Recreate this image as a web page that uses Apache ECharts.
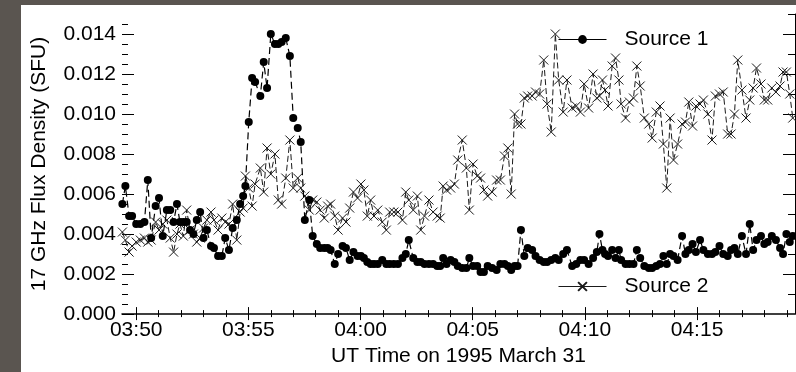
<!DOCTYPE html>
<html>
<head>
<meta charset="utf-8">
<script src="https://cdn.jsdelivr.net/npm/echarts@6/dist/echarts.min.js"></script>
<style>
  html, body { margin: 0; padding: 0; background: #5a5550; width: 796px; height: 372px; overflow: hidden; }
  #c { position: absolute; left: 21px; top: 5px; width: 775px; height: 367px; background: #ffffff; }
</style>
</head>
<body>
<div id="c"></div>
<script>
// time of each sample, in seconds after 03:49:00 UT (1995 March 31)
var tSec = [23,31,41,49,60,71,82,91,100,112,
  121,131,142,151,160,169,177,186,195,204,
  213,222,231,240,249,260,268,279,289,298,
  308,318,329,338,346,352,361,370,378,392,
  401,410,420,431,440,449,460,471,480,492,
  500,511,523,532,543,552,563,572,580,591,
  600,612,621,631,641,652,661,669,678,687,
  696,706,718,729,738,749,760,772,781,789,
  801,812,821,831,843,854,865,873,881,890,901,
  911,920,932,943,951,961,972,981,990,1000,
  1012,1024,1034,1045,1054,1063,1072,1080,1089,1098,
  1107,1119,1128,1139,1150,1159,1170,1181,1190,1202,
  1212,1226,1237,1248,1258,1270,1282,1292,1299,1307,
  1314,1322,1333,1342,1351,1357,1369,1379,1390,1399,
  1408,1419,1431,1440,1451,1461,1470,1479,1488,1497,
  1508,1520,1529,1538,1548,1557,1568,1577,1589,1600,
  1609,1620,1630,1642,1651,1660,1669,1680,1691,1701,
  1710,1719,1731,1740,1749,1760,1771,1782,1790,1799,
  1808,1816];

// Source 1 (filled circles), SFU
var source1 = [.0055,.0064,.0049,.0049,.0045,.0045,.0046,.0067,.0038,.0054,
  .0058,.0039,.0052,.0052,.0046,.0055,.0046,.0046,.0046,.0042,
  .0040,.0047,.0051,.0038,.0042,.0034,.0033,.0029,.0029,.0038,
  .0032,.0043,.0047,.0055,.0059,.0064,.0096,.0118,.0116,.0109,
  .0126,.0113,.0140,.0135,.0135,.0136,.0138,.0129,.0098,.0093,
  .0086,.0047,.0057,.0039,.0035,.0033,.0033,.0033,.0032,.0025,
  .0030,.0034,.0033,.0027,.0031,.0029,.0029,.0028,.0026,.0025,
  .0025,.0025,.0027,.0025,.0025,.0025,.0025,.0028,.0030,.0037,
  .0028,.0026,.0026,.0025,.0025,.0025,.0024,.0024,.0028,.0025,.0027,
  .0026,.0024,.0023,.0023,.0028,.0024,.0024,.0021,.0021,.0024,
  .0023,.0022,.0025,.0025,.0024,.0022,.0024,.0024,.0042,.0029,
  .0033,.0032,.0029,.0027,.0026,.0026,.0027,.0028,.0027,.0030,
  .0032,.0024,.0025,.0027,.0027,.0025,.0028,.0031,.0040,.0032,
  .0030,.0029,.0032,.0028,.0032,.0027,.0025,.0025,.0025,.0032,
  .0028,.0024,.0023,.0023,.0024,.0025,.0029,.0025,.0030,.0029,
  .0027,.0039,.0030,.0032,.0035,.0031,.0037,.0032,.0030,.0030,
  .0031,.0034,.0030,.0029,.0032,.0033,.0030,.0039,.0030,.0045,
  .0032,.0037,.0039,.0035,.0036,.0039,.0037,.0033,.0030,.0040,
  .0036,.0039];

// Source 2 (crosses), SFU
var source2 = [.0041,.0037,.0031,.0034,.0036,.0037,.0038,.0036,.0037,.0046,
  .0042,.0045,.0047,.0038,.0031,.0040,.0045,.0039,.0052,.0042,
  .0040,.0036,.0038,.0043,.0047,.0051,.0047,.0042,.0048,.0046,
  .0045,.0055,.0037,.0051,.0053,.0069,.0063,.0054,.0065,.0073,
  .0061,.0083,.0070,.0080,.0057,.0055,.0068,.0087,.0063,.0068,
  .0063,.0059,.0052,.0057,.0056,.0052,.0048,.0054,.0055,.0049,
  .0042,.0048,.0046,.0053,.0061,.0058,.0065,.0062,.0049,.0057,
  .0049,.0052,.0046,.0042,.0051,.0051,.0051,.0047,.0061,.0057,
  .0052,.0059,.0042,.0049,.0057,.0051,.0049,.0048,.0064,.0062,.0063,
  .0065,.0077,.0087,.0073,.0052,.0075,.0069,.0068,.0062,.0059,
  .0061,.0067,.0067,.0079,.0083,.0060,.0100,.0095,.0095,.0108,
  .0109,.0109,.0111,.0110,.0127,.0105,.0091,.0140,.0117,.0101,
  .0117,.0103,.0104,.0101,.0115,.0103,.0120,.0108,.0109,.0117,
  .0112,.0104,.0124,.0128,.0117,.0105,.0098,.0106,.0108,.0124,
  .0114,.0098,.0095,.0088,.0101,.0104,.0085,.0063,.0098,.0077,
  .0085,.0095,.0096,.0106,.0094,.0104,.0105,.0107,.0100,.0087,
  .0109,.0110,.0111,.0090,.0090,.0100,.0127,.0112,.0098,.0107,
  .0113,.0123,.0115,.0107,.0107,.0113,.0111,.0114,.0121,.0121,
  .0110,.0098];

var seriesNames = ['Source 1', 'Source 2'];

// axis ticks (x in seconds after 03:49:00)
var xMajorTicks = [60, 360, 660, 960, 1260, 1560];
var xMinorTicks = [60,120,180,240,300,360,420,480,540,600,660,720,780,840,900,960,1020,1080,1140,1200,1260,1320,1380,1440,1500,1560,1620,1680,1740,1800];
var yMajorTicks = [0, 0.002, 0.004, 0.006, 0.008, 0.010, 0.012, 0.014];
var yMinorTicks = [0.0005,0.001,0.0015,0.002,0.0025,0.003,0.0035,0.004,0.0045,0.005,0.0055,0.006,0.0065,0.007,0.0075,0.008,0.0085,0.009,0.0095,0.010,0.0105,0.011,0.0115,0.012,0.0125,0.013,0.0135,0.014,0.0145];
var yRightMajor = [0.002, 0.004, 0.006, 0.008, 0.010, 0.012, 0.014];
var yRightMinor = [0.001,0.002,0.003,0.004,0.005,0.006,0.007,0.008,0.009,0.010,0.011,0.012,0.013,0.014,0.015];

var xMin = 22, xMax = 1822, yMin = 0, yMax = 0.015;

function timeLabel(s) {
  var total = 3 * 3600 + 49 * 60 + Math.round(s);
  var h = Math.floor(total / 3600);
  var m = Math.floor((total % 3600) / 60);
  return (h < 10 ? '0' : '') + h + ':' + (m < 10 ? '0' : '') + m;
}

var FONT = '"Liberation Sans", Arial, Helvetica, sans-serif';
var black = '#000';

function xAx(pos, ticks, len, opts) {
  var a = {
    type: 'value', position: pos, min: xMin, max: xMax,
    axisLine: { show: false },
    axisTick: { show: true, inside: true, length: len, customValues: ticks, lineStyle: { color: black, width: 1 } },
    axisLabel: { show: false },
    splitLine: { show: false }
  };
  return Object.assign(a, opts || {});
}
function yAx(pos, ticks, len, opts) {
  var a = {
    type: 'value', position: pos, min: yMin, max: yMax,
    axisLine: { show: false },
    axisTick: { show: true, inside: true, length: len, customValues: ticks, lineStyle: { color: black, width: 1 } },
    axisLabel: { show: false },
    splitLine: { show: false }
  };
  return Object.assign(a, opts || {});
}

var chart = echarts.init(document.getElementById('c'), null, { renderer: 'canvas' });

var crossPath = 'path://M0,0L10,10M10,0L0,10';

chart.setOption({
  animation: false,
  backgroundColor: '#ffffff',
  textStyle: { fontFamily: FONT, color: black },
  grid: { left: 100, right: 1, top: 9, bottom: 57.5, containLabel: false },
  legend: [
    {
      data: [seriesNames[0]], left: 537, top: 24, orient: 'horizontal',
      itemWidth: 48, itemHeight: 11, padding: 0,
      lineStyle: { type: 'solid', width: 1 },
      textStyle: { fontFamily: FONT, fontSize: 21, color: black, padding: [0, 0, 0, 13] },
      selectedMode: false
    },
    {
      data: [seriesNames[1]], left: 537, top: 271, orient: 'horizontal',
      itemWidth: 48, itemHeight: 11, padding: 0,
      lineStyle: { type: 'solid', width: 1 },
      textStyle: { fontFamily: FONT, fontSize: 21, color: black, padding: [0, 0, 0, 13] },
      selectedMode: false
    }
  ],
  xAxis: [
    xAx('bottom', xMajorTicks, 7, {
      axisLine: { show: true, lineStyle: { color: black, width: 1.5 } },
      axisLabel: {
        show: true, customValues: xMajorTicks, margin: 6,
        fontFamily: FONT, fontSize: 21, color: black,
        formatter: function (v) { return timeLabel(v); }
      },
      name: 'UT Time on 1995 March 31', nameLocation: 'middle', nameGap: 26,
      nameTextStyle: { fontFamily: FONT, fontSize: 21, color: black }
    }),
    xAx('bottom', xMinorTicks, 4),
    xAx('top', xMajorTicks, 6),
    xAx('top', xMinorTicks, 3)
  ],
  yAxis: [
    yAx('left', yMajorTicks, 12, {
      axisLabel: {
        show: true, customValues: yMajorTicks, margin: 6,
        fontFamily: FONT, fontSize: 21, color: black,
        formatter: function (v) { return v.toFixed(3); }
      },
      name: '17 GHz Flux Density (SFU)', nameLocation: 'middle', nameGap: 72,
      nameTextStyle: { fontFamily: FONT, fontSize: 21, color: black }
    }),
    yAx('left', yMinorTicks, 6),
    yAx('right', yRightMajor, 12, { axisLine: { show: true, lineStyle: { color: black, width: 1 } } }),
    yAx('right', yRightMinor, 7)
  ],
  series: [
    {
      name: seriesNames[1], type: 'line', xAxisIndex: 0, yAxisIndex: 0,
      data: tSec.map(function (t, i) { return [t, source2[i]]; }),
      symbol: crossPath, symbolSize: 9, showAllSymbol: true,
      itemStyle: { color: 'rgba(0,0,0,0)', borderColor: '#1a1a1a', borderWidth: 1 },
      lineStyle: { color: '#1a1a1a', width: 1, type: [6, 3] },
      z: 2
    },
    {
      name: seriesNames[0], type: 'line', xAxisIndex: 0, yAxisIndex: 0,
      data: tSec.map(function (t, i) { return [t, source1[i]]; }),
      symbol: 'circle', symbolSize: 8, showAllSymbol: true,
      itemStyle: { color: black, borderWidth: 0 },
      lineStyle: { color: black, width: 1.2, type: [7, 4] },
      z: 3
    }
  ]
});
</script>
</body>
</html>
